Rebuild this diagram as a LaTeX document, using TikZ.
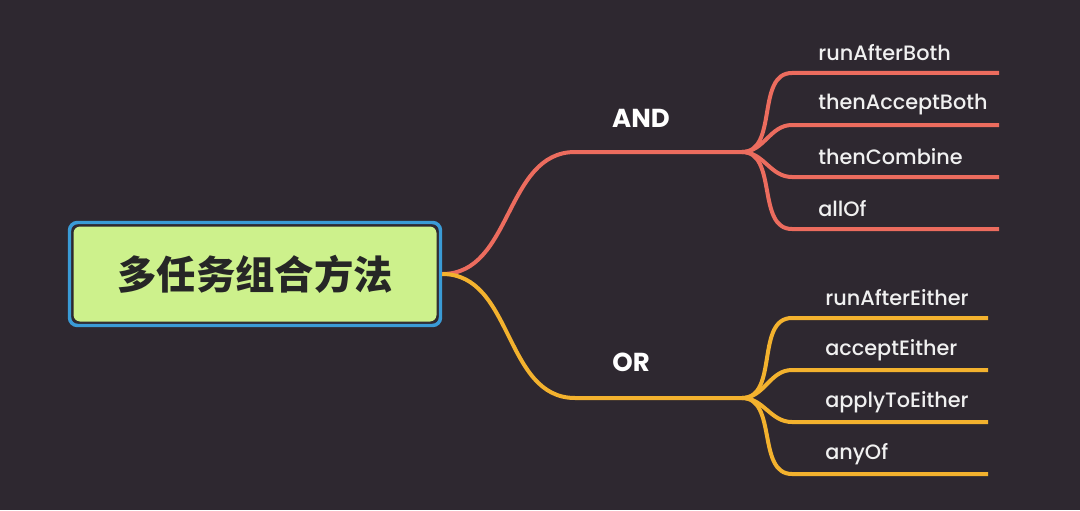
\documentclass[tikz,border=0pt]{standalone}
\usepackage{fontspec}
\setmainfont{Poppins}
\newfontfamily\medfont{Poppins}[UprightFont=* Medium]
\newfontfamily\cjk{Noto Sans CJK SC}
\usetikzlibrary{positioning, fit}

\definecolor{bgdark}{RGB}{46,40,48}
\definecolor{rootgreen}{RGB}{205,241,140}
\definecolor{rootblue}{RGB}{58,155,214}
\definecolor{andred}{RGB}{236,108,94}
\definecolor{orgold}{RGB}{243,178,46}

\begin{document}
\begin{tikzpicture}[x=0.75pt, y=-0.75pt,
  root/.style={fill=rootgreen, draw=bgdark, line width=0.75pt, rounded corners=5pt,
    minimum width=273pt, minimum height=72pt, text=black!85,
    font=\cjk\bfseries\fontsize{29.5}{32}\selectfont},
  rootring/.style={draw=rootblue, line width=2.6pt, rounded corners=6pt, inner sep=2.25pt},
  group/.style={text=white, font=\bfseries\fontsize{19.5}{22}\selectfont},
  leaf/.style={anchor=west, inner sep=0pt, text=white!94!black, font=\medfont\fontsize{15.6}{18}\selectfont},
  andline/.style={draw=andred, line width=3pt},
  orline/.style={draw=orgold, line width=3pt}]
\useasboundingbox (0,0) rectangle (1080,510);
\fill[bgdark] (0,0) rectangle (1080,510);

\node[root] (root) at (255,274) {多任务组合方法};
\node[rootring, fit=(root)] (ring) {};

\coordinate (andknee) at (575,152);
\coordinate (andhub) at (742,152);
\node[group] (and) at (641,118) {AND};
\draw[andline] (ring.east) to[out=0,in=180] (andknee) -- (andhub);
\foreach \y/\txt [count=\i] in {73/runAfterBoth,125/thenAcceptBoth,177/thenCombine,229/allOf}{
  \coordinate (a\i) at (792,\y);
  \coordinate (a\i e) at (999,\y);
  \node[leaf] (an\i) at (818,\y-20) {\txt};
  \draw[andline] (andhub) to[out=0,in=180] (a\i) -- (a\i e);
}

\coordinate (orknee) at (575,398);
\coordinate (orhub) at (742,398);
\node[group] (or) at (631,362) {OR};
\draw[orline] (ring.east) to[out=0,in=180] (orknee) -- (orhub);
\foreach \y/\txt [count=\i] in {318/runAfterEither,370/acceptEither,422/applyToEither,474/anyOf}{
  \coordinate (o\i) at (792,\y);
  \coordinate (o\i e) at (988,\y);
  \node[leaf] (on\i) at (825,\y-20) {\txt};
  \draw[orline] (orhub) to[out=0,in=180] (o\i) -- (o\i e);
}
\end{tikzpicture}
\end{document}
